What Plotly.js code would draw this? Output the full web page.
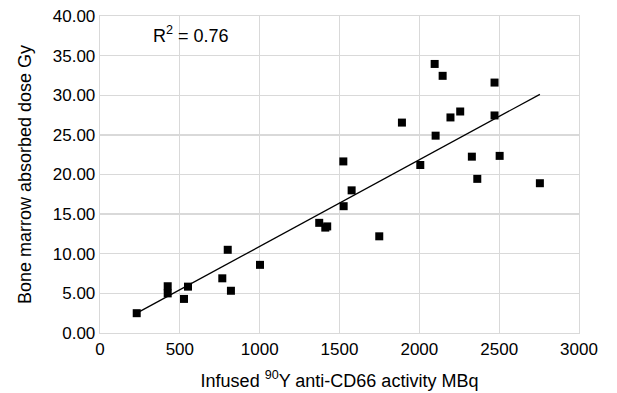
<!DOCTYPE html>
<html><head><meta charset="utf-8">
<script src="https://cdn.plot.ly/plotly-3.0.1.min.js"></script>
<style>body{margin:0;background:#fff}#c{width:617px;height:393px}</style>
</head><body><div id="c"></div>
<script>
var activity = [230, 424, 424, 526, 551, 766, 800, 820, 1002, 1373, 1411, 1423, 1526, 1576, 1749, 1524, 1891, 2096, 2146, 2102, 2006, 2195, 2256, 2471, 2471, 2329, 2503, 2363, 2755];
var dose = [2.5, 5.9, 5.0, 4.3, 5.85, 6.9, 10.5, 5.33, 8.6, 13.9, 13.3, 13.45, 16.0, 18.0, 12.2, 21.65, 26.55, 33.95, 32.45, 24.9, 21.2, 27.2, 27.95, 31.6, 27.45, 22.25, 22.35, 19.45, 18.9];
var xTicks = [0, 500, 1000, 1500, 2000, 2500, 3000];
var yTicks = [0, 5, 10, 15, 20, 25, 30, 35, 40];
var r2Label = 'R<sup>2</sup> = 0.76';

// least squares trendline from data
var n = activity.length, sx = 0, sy = 0, sxx = 0, sxy = 0;
for (var i = 0; i < n; i++) { sx += activity[i]; sy += dose[i]; sxx += activity[i]*activity[i]; sxy += activity[i]*dose[i]; }
var slope = (n*sxy - sx*sy) / (n*sxx - sx*sx);
var icpt = (sy - slope*sx) / n;
var xmin = Math.min.apply(null, activity), xmax = Math.max.apply(null, activity);
var trendX = [xmin, xmax];
var trendY = trendX.map(function(v){ return icpt + slope*v; });

var fam = 'Liberation Sans, Arial, sans-serif';
var tickFont = {family: fam, size: 17, color: '#000'};
var titleFont = {family: fam, size: 18, color: '#000'};
var data = [
  {x: trendX, y: trendY, mode: 'lines', line: {color: '#000', width: 1.3}, hoverinfo: 'skip'},
  {x: activity, y: dose, mode: 'markers', marker: {symbol: 'square', size: 8, color: '#000'}}
];
var layout = {
  width: 617, height: 393,
  margin: {l: 100, r: 38, t: 16, b: 60},
  paper_bgcolor: '#fff', plot_bgcolor: '#fff',
  showlegend: false,
  font: tickFont,
  xaxis: {range: [0, 3000], tickvals: xTicks, ticktext: xTicks.map(String),
    showgrid: true, gridcolor: '#d9d9d9', gridwidth: 1.3, zeroline: false,
    showline: true, linecolor: '#d9d9d9', linewidth: 1.3, mirror: true, ticks: '', ticklen: 0,
    title: {text: 'Infused <sup>90</sup>Y anti-CD66 activity MBq', font: titleFont, standoff: 16},
    tickfont: tickFont},
  yaxis: {range: [0, 40], tickvals: yTicks, tickformat: '.2f',
    showgrid: true, gridcolor: '#d9d9d9', gridwidth: 1.3, zeroline: false,
    showline: true, linecolor: '#d9d9d9', linewidth: 1.3, mirror: true, ticks: '',
    title: {text: 'Bone marrow absorbed dose Gy', font: titleFont, standoff: 16},
    tickfont: tickFont},
  annotations: [{x: 570, y: 37.7, xref: 'x', yref: 'y', text: r2Label, showarrow: false, font: titleFont}]
};
Plotly.newPlot('c', data, layout, {displayModeBar: false, staticPlot: true});
</script></body></html>
